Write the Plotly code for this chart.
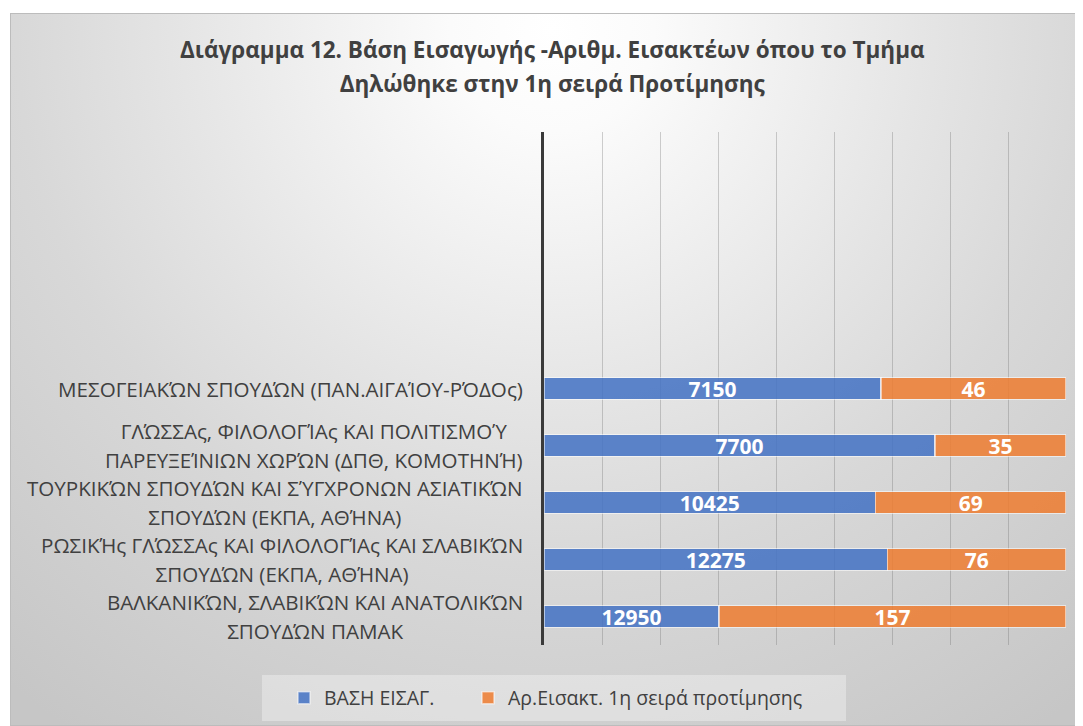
import base64
import plotly.graph_objects as go

# ---------------- data ----------------
categories = [
    "ΒΑΛΚΑΝΙΚΏΝ, ΣΛΑΒΙΚΏΝ ΚΑΙ ΑΝΑΤΟΛΙΚΏΝ<br>ΣΠΟΥΔΏΝ ΠΑΜΑΚ",
    "ΡΩΣΙΚΉς ΓΛΏΣΣΑς ΚΑΙ ΦΙΛΟΛΟΓΊΑς ΚΑΙ ΣΛΑΒΙΚΏΝ<br>ΣΠΟΥΔΏΝ (ΕΚΠΑ, ΑΘΉΝΑ)",
    "ΤΟΥΡΚΙΚΏΝ ΣΠΟΥΔΏΝ ΚΑΙ ΣΎΓΧΡΟΝΩΝ ΑΣΙΑΤΙΚΏΝ<br>ΣΠΟΥΔΏΝ (ΕΚΠΑ, ΑΘΉΝΑ)",
    "ΓΛΏΣΣΑς, ΦΙΛΟΛΟΓΊΑς ΚΑΙ ΠΟΛΙΤΙΣΜΟΎ<br>ΠΑΡΕΥΞΕΊΝΙΩΝ ΧΩΡΏΝ (ΔΠΘ, ΚΟΜΟΤΗΝΉ)",
    "ΜΕΣΟΓΕΙΑΚΏΝ ΣΠΟΥΔΏΝ (ΠΑΝ.ΑΙΓΑΊΟΥ-ΡΌΔΟς)",
]
base_score = [12950, 12275, 10425, 7700, 7150]          # ΒΑΣΗ ΕΙΣΑΓ. (label values)
admitted_1st = [157, 76, 69, 35, 46]                     # Αρ.Εισακτ. 1η σειρά (label values)
# share of the full bar width each segment occupies in the reference (percent)
base_share = [33.5, 65.8, 63.5, 74.9, 64.6]
admitted_share = [66.5, 34.2, 36.5, 25.1, 35.4]

series_names = ["ΒΑΣΗ ΕΙΣΑΓ.", "Αρ.Εισακτ. 1η σειρά προτίμησης"]
title_lines = ["Διάγραμμα 12. Βάση Εισαγωγής -Αριθμ. Εισακτέων όπου το Τμήμα",
               "Δηλώθηκε στην 1η σειρά Προτίμησης"]

# ---------------- layout constants ----------------
OFF = 8                      # page body margin
W, H = 1083 - OFF, 726 - OFF
FONT = "Open Sans"
TXT = "#404040"

def px_x(v):                 # screen pixel -> paper fraction
    return (v - OFF) / W

def px_y(v):
    return 1 - (v - OFF) / H

# background gradient as an SVG image
svg = '''<svg xmlns="http://www.w3.org/2000/svg" width="1073" height="713" viewBox="0 0 1073 713">
<defs><radialGradient id="g" gradientUnits="userSpaceOnUse" cx="542" cy="17" r="850">
<stop offset="0" stop-color="#ffffff"/>
<stop offset="0.12" stop-color="#fbfbfb"/>
<stop offset="0.45" stop-color="#e4e4e4"/>
<stop offset="0.63" stop-color="#d8d8d8"/>
<stop offset="1" stop-color="#c6c6c6"/>
</radialGradient></defs>
<rect x="0" y="0" width="1073" height="713" fill="url(#g)" stroke="#bcbcbc" stroke-width="2"/>
</svg>'''
bg_src = "data:image/svg+xml;base64," + base64.b64encode(svg.encode("utf-8")).decode("ascii")

fig = go.Figure()
fig.add_trace(go.Bar(
    y=categories, x=base_share, orientation="h", name=series_names[0],
    legend="legend", showlegend=True,
    marker=dict(color="rgba(68,114,196,0.86)", line=dict(color="rgba(255,255,255,0.55)", width=1.5)),
    customdata=base_score, texttemplate="<b>%{customdata}</b>", textposition="inside",
    insidetextanchor="middle", textangle=0, constraintext="none",
    insidetextfont=dict(family=FONT, size=21, color="white"),
    hoverinfo="skip",
))
fig.add_trace(go.Bar(
    y=categories, x=admitted_share, orientation="h", name=series_names[1],
    legend="legend2", showlegend=True,
    marker=dict(color="rgba(237,125,49,0.86)", line=dict(color="rgba(255,255,255,0.55)", width=1.5)),
    customdata=admitted_1st, texttemplate="<b>%{customdata}</b>", textposition="inside",
    insidetextanchor="middle", textangle=0, constraintext="none",
    insidetextfont=dict(family=FONT, size=21, color="white"),
    hoverinfo="skip",
))

annotations = []
# category labels (centered lines, right edge near the axis)
for i, cat in enumerate(categories):
    lines = cat.split("<br>")
    txt = "<br>".join(f'<span style="font-size:20.6px">{ln}</span>' for ln in lines)
    annotations.append(dict(
        text=txt, xref="paper", yref="y", x=px_x(525), y=i,
        xanchor="right", yanchor="middle", align="center", showarrow=False,
        font=dict(family=FONT, size=22.3, color=TXT),
    ))
# title
annotations.append(dict(
    text="<br>".join(f'<span style="font-size:22.5px"><b>{ln}</b></span>' for ln in title_lines),
    xref="paper", yref="paper", x=px_x(552), y=px_y(67), xanchor="center", yanchor="middle",
    align="center", showarrow=False, font=dict(family=FONT, size=26, color=TXT),
))

ticks = [i * 100 / 9 for i in range(10)]

fig.update_layout(
    width=W, height=H, autosize=False, showlegend=True,
    margin=dict(l=0, r=0, t=0, b=0),
    paper_bgcolor="white", plot_bgcolor="rgba(0,0,0,0)",
    barmode="stack", bargap=0.616,
    font=dict(family=FONT, color=TXT),
    images=[dict(source=bg_src, xref="paper", yref="paper", x=px_x(10), y=px_y(13),
                 sizex=1073 / W, sizey=713 / H, sizing="stretch", layer="below",
                 xanchor="left", yanchor="top")],
    shapes=[dict(type="rect", xref="paper", yref="paper", x0=px_x(262), x1=px_x(846),
                 y0=px_y(721), y1=px_y(675), fillcolor="rgba(255,255,255,0.33)",
                 line=dict(width=0), layer="below")],
    xaxis=dict(domain=[px_x(544), px_x(1066)], range=[0, 100], tickmode="array", tickvals=ticks,
               showticklabels=False, showgrid=True, gridcolor="rgba(110,110,110,0.32)", gridwidth=1,
               zeroline=False, showline=False, fixedrange=True),
    yaxis=dict(domain=[px_y(645), px_y(132)], type="category", categoryorder="array",
               categoryarray=categories, range=[-0.5, 8.5], showticklabels=False,
               showgrid=False, zeroline=False, showline=True, linecolor="#3a3a3a", linewidth=3,
               ticks="", fixedrange=True),
    legend=dict(orientation="h", x=px_x(284), y=px_y(698), xanchor="left", yanchor="middle",
                bgcolor="rgba(0,0,0,0)", font=dict(family=FONT, size=19.5, color=TXT), visible=True),
    legend2=dict(orientation="h", x=px_x(468), y=px_y(698), xanchor="left", yanchor="middle",
                 bgcolor="rgba(0,0,0,0)", font=dict(family=FONT, size=19.5, color=TXT), visible=True),
    annotations=annotations,
)

fig.write_html("out.html")
